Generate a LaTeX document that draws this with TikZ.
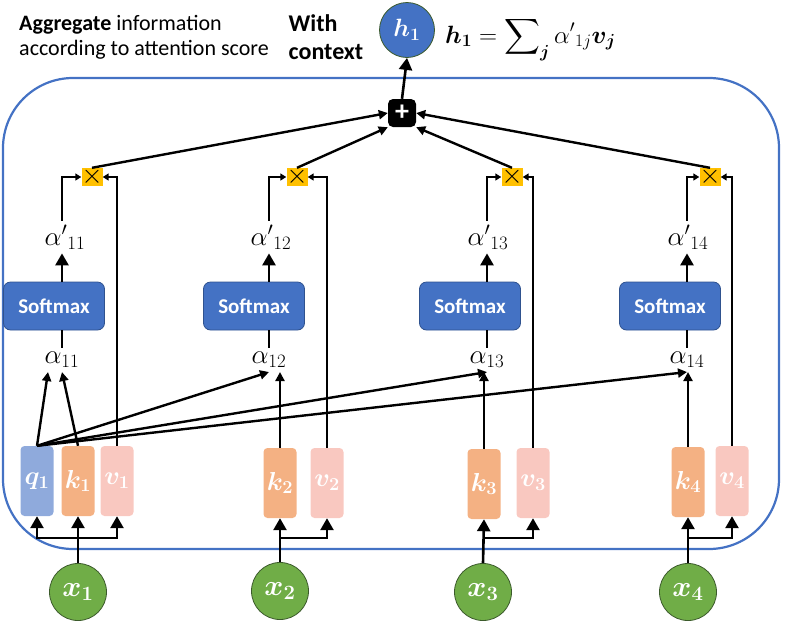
\RequirePackage{fix-cm}
\documentclass[tikz,border=0pt]{standalone}
\usepackage{amsmath,bm}
\usepackage{fontspec}
\setmainfont{Carlito}
\usepackage{tikz}
\usetikzlibrary{arrows.meta,positioning,backgrounds}
\definecolor{offblue}{HTML}{4472C4}
\definecolor{softdk}{HTML}{2F528F}
\definecolor{qblue}{HTML}{8FAADC}
\definecolor{korange}{HTML}{F4B183}
\definecolor{vpink}{HTML}{F9C8C0}
\definecolor{xgreen}{HTML}{70AD47}
\definecolor{greendk}{HTML}{3B5A2B}
\definecolor{multyel}{HTML}{FFC000}
\tikzset{
  cell/.style={rectangle, rounded corners=4pt, minimum width=33pt, minimum height=70pt,
               inner sep=0pt, text=white, font=\fontsize{26}{26}\selectfont},
  qcell/.style={cell, fill=qblue},
  kcell/.style={cell, fill=korange},
  vcell/.style={cell, fill=vpink},
  inp/.style={circle, draw=greendk, line width=0.8pt, fill=xgreen, minimum size=57pt,
              inner sep=0pt, text=white, font=\fontsize{29}{29}\selectfont},
  ar/.style={-{Triangle[length=9pt,width=9pt]}, line width=2.4pt},
  arbig/.style={-{Triangle[length=12pt,width=13pt]}, line width=2.6pt},
  arsm/.style={-{Triangle[length=6pt,width=7pt]}, line width=2.2pt}
}
\begin{document}
\begin{tikzpicture}[
  x=1pt, y=-1pt,
  frame/.style={rectangle, rounded corners=70pt, draw=offblue, line width=2.2pt,
                minimum width=776pt, minimum height=471pt},
  soft/.style={rectangle, rounded corners=7pt, draw=softdk, line width=0.8pt, fill=offblue,
               minimum width=101pt, minimum height=48pt, text=white,
               font=\fontsize{21}{21}\selectfont\bfseries},
  mult/.style={rectangle, fill=multyel, minimum width=20pt, minimum height=15pt,
               inner sep=0pt, font=\fontsize{27}{27}\selectfont},
  plusbox/.style={rectangle, rounded corners=5pt, fill=black, minimum size=28pt,
                  inner sep=0pt, text=white, font=\fontsize{28}{28}\selectfont\bfseries},
  hnode/.style={circle, draw=greendk, line width=0.8pt, fill=offblue, minimum size=55pt,
                inner sep=0pt, text=white, font=\fontsize{25}{25}\selectfont},
  lbl/.style={inner sep=4pt, font=\fontsize{27}{27}\selectfont},
  note/.style={align=left, font=\fontsize{22}{25}\selectfont}
]
\useasboundingbox (0,0) rectangle (785,630);
\node[frame] (box) at (391,313.5) {};
% header
\node[note] (cap) at (144,37) {\textbf{Aggregate} information\\according to attention score};
\node[note, font=\fontsize{24}{28}\selectfont\bfseries] (ctx) at (326,37) {With\\context};
\node[hnode] (h1) at (407,30) {$\bm{h_1}$};
\node[anchor=west, inner sep=0pt, font=\fontsize{25}{25}\selectfont] (eq) at (445,39)
  {$\displaystyle\bm{h_1} = \sum\nolimits_{\bm{j}} \alpha'{}_{1j}\bm{v_j}$};
\node[plusbox] (plus) at (402,113) {+};
% multiply
\node[mult] (m1) at (92,177) {$\times$};
\node[mult] (m2) at (297,177) {$\times$};
\node[mult] (m3) at (512,177) {$\times$};
\node[mult] (m4) at (710,177) {$\times$};
% normalised scores
\node[lbl] (ap1) at (65,237) {$\alpha'{}_{11}$};
\node[lbl] (ap2) at (271,237) {$\alpha'{}_{12}$};
\node[lbl] (ap3) at (488,237) {$\alpha'{}_{13}$};
\node[lbl] (ap4) at (688,237) {$\alpha'{}_{14}$};
\node[soft] (s1) at (54,306) {Softmax};
\node[soft] (s2) at (254,306) {Softmax};
\node[soft] (s3) at (470,306) {Softmax};
\node[soft] (s4) at (670,306) {Softmax};
\node[lbl] (a1) at (62,360) {$\alpha_{11}$};
\node[lbl] (a2) at (269,360) {$\alpha_{12}$};
\node[lbl] (a3) at (487,360) {$\alpha_{13}$};
\node[lbl] (a4) at (687,360) {$\alpha_{14}$};
% q, k, v
\node[qcell] (q1) at (37,481) {$\bm{q_1}$};
\node[kcell] (k1) at (78,481) {$\bm{k_1}$};
\node[vcell] (v1) at (117,481) {$\bm{v_1}$};
\node[kcell] (k2) at (280,483) {$\bm{k_2}$};
\node[vcell] (v2) at (327,483) {$\bm{v_2}$};
\node[kcell] (k3) at (484,484) {$\bm{k_3}$};
\node[vcell] (v3) at (533,483) {$\bm{v_3}$};
\node[kcell] (k4) at (688,482) {$\bm{k_4}$};
\node[vcell] (v4) at (732,481) {$\bm{v_4}$};
% inputs
\node[inp] (x1) at (78,592) {$\bm{x_1}$};
\node[inp] (x2) at (280,591) {$\bm{x_2}$};
\node[inp] (x3) at (483,592) {$\bm{x_3}$};
\node[inp] (x4) at (688,592) {$\bm{x_4}$};
\coordinate (b1) at (78,538);
\coordinate (b2) at (280,538);
\coordinate (b3) at (484,538);
\coordinate (b4) at (688,538);
% inputs to q, k, v
\draw[arbig] (x1.north) -- (k1.south);
\draw[arbig] (b1) -| (q1.south);
\draw[arbig] (b1) -| (v1.south);
\draw[arbig] (x2.north) -- (k2.south);
\draw[arbig] (b2) -| (v2.south);
\draw[arbig] (x3.north) -- (k3.south);
\draw[arbig] (b3) -| (v3.south);
\draw[arbig] (x4.north) -- (k4.south);
\draw[arbig] (b4) -| (v4.south);
% attention scores
\draw[ar] (q1.north) -- ([xshift=-14pt]a1.south);
\draw[ar] (k1.north) -- (a1.south);
\draw[ar] (q1.north) -- (a2.south);
\draw[ar] (q1.north) -- (a3.south);
\draw[ar] (q1.north) -- (a4.south);
\draw[ar] (k2.north) -- (k2.north |- a2.south);
\draw[ar] (k3.north) -- (k3.north |- a3.south);
\draw[ar] (k4.north) -- (k4.north |- a4.south);
% softmax
\draw[line width=2.4pt] (a1.north) -- (s1.south -| a1);
\draw[line width=2.4pt] (a2.north) -- (s2.south -| a2);
\draw[line width=2.4pt] (a3.north) -- (s3.south -| a3);
\draw[line width=2.4pt] (a4.north) -- (s4.south -| a4);
\draw[arbig] (s1.north -| a1) -- (ap1.south -| a1);
\draw[arbig] (s2.north -| a2) -- (ap2.south -| a2);
\draw[arbig] (s3.north -| a3) -- (ap3.south -| a3);
\draw[arbig] (s4.north -| a4) -- (ap4.south -| a4);
% weight the values
\draw[arsm] (ap1.north -| a1) |- (m1.west);
\draw[arsm] (ap2.north -| a2) |- (m2.west);
\draw[arsm] (ap3.north -| a3) |- (m3.west);
\draw[arsm] (ap4.north -| a4) |- (m4.west);
\draw[arsm] (v1.north) |- (m1.east);
\draw[arsm] (v2.north) |- (m2.east);
\draw[arsm] (v3.north) |- (m3.east);
\draw[arsm] (v4.north) |- (m4.east);
% sum
\draw[ar] (m1.north) -- (plus.west);
\draw[ar] (m2.north) -- (plus.south west);
\draw[ar] (m3.north) -- (plus.south east);
\draw[ar] (m4.north) -- (plus.east);
\draw[arbig] (plus.north) -- (h1.south);
\end{tikzpicture}
\end{document}
